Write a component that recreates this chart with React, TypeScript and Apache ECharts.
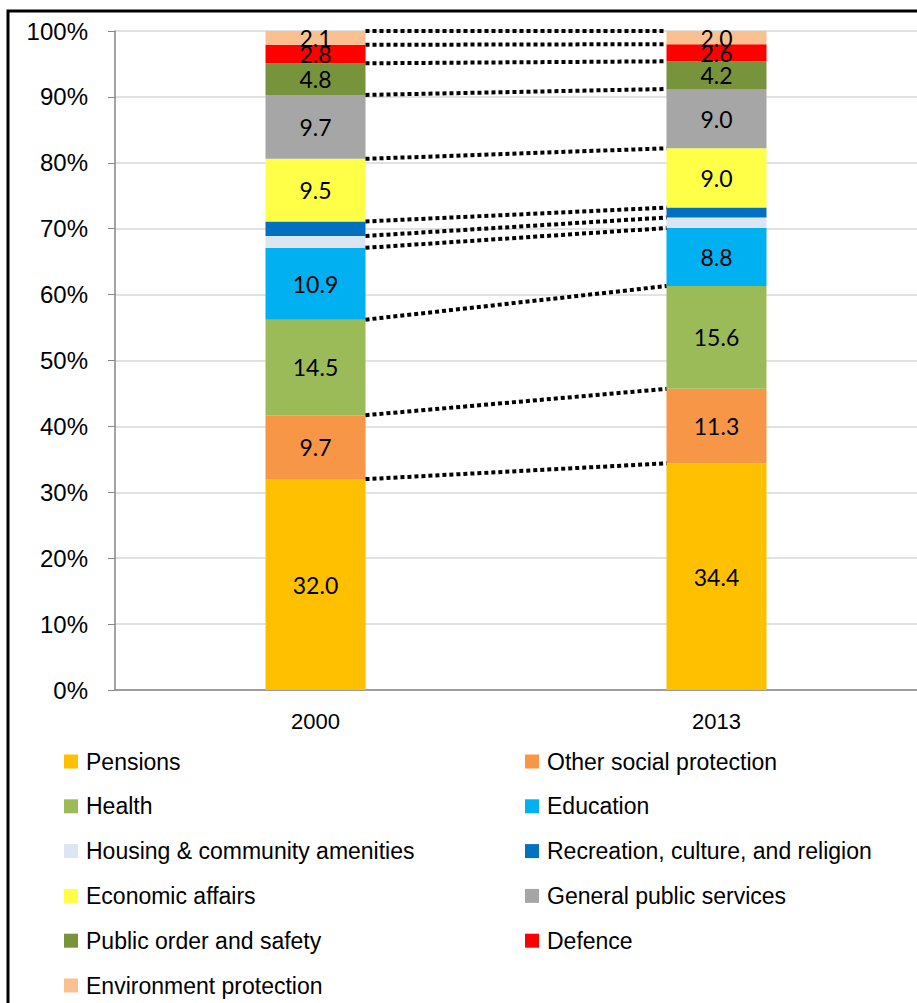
import React, { useEffect, useRef } from "react";
import * as echarts from "echarts";

const years = ["2000", "2013"];
const seriesNames = [
  "Pensions",
  "Other social protection",
  "Health",
  "Education",
  "Housing & community amenities",
  "Recreation, culture, and religion",
  "Economic affairs",
  "General public services",
  "Public order and safety",
  "Defence",
  "Environment protection",
];
const values2000 = [32.0, 9.7, 14.5, 10.9, 1.8, 2.2, 9.5, 9.7, 4.8, 2.8, 2.1];
const values2013 = [34.4, 11.3, 15.6, 8.8, 1.6, 1.5, 9.0, 9.0, 4.2, 2.6, 2.0];
const showLabel = [true, true, true, true, false, false, true, true, true, true, true];
const colors = [
  "#FFC000",
  "#F79646",
  "#9BBB59",
  "#00B0F0",
  "#DCE6F2",
  "#0070C0",
  "#FFFF47",
  "#A6A6A6",
  "#77933C",
  "#FF0000",
  "#FAC090",
];
const yTicks = [0, 10, 20, 30, 40, 50, 60, 70, 80, 90, 100];

const BAR_WIDTH = 100;
const SANS = "'Liberation Sans', Arial, sans-serif";
const LABEL_FONT = "Lato, 'Liberation Sans', sans-serif";

function cumulative(arr: number[]): number[] {
  const out: number[] = [];
  let s = 0;
  for (const v of arr) {
    s += v;
    out.push(Math.round(s * 10) / 10);
  }
  return out;
}

export default function App() {
  const ref = useRef<HTMLDivElement>(null);

  useEffect(() => {
    if (!ref.current) return;
    const chart = echarts.init(ref.current, undefined, { renderer: "svg" });
    const cum0 = cumulative(values2000);
    const cum1 = cumulative(values2013);
    const connectorData = cum0.map((v, i) => [0, v, cum1[i]]);

    const barSeries = seriesNames.map((name, i) => ({
      name,
      type: "bar",
      stack: "total",
      barWidth: BAR_WIDTH,
      itemStyle: { color: colors[i] },
      label: {
        show: showLabel[i],
        position: "inside",
        color: "#000",
        fontSize: 23,
        fontFamily: LABEL_FONT,
        formatter: (p: any) => Number(p.value).toFixed(1),
      },
      data: [values2000[i], values2013[i]],
    }));

    const leftNames = seriesNames.filter((_, i) => i % 2 === 0);
    const rightNames = seriesNames.filter((_, i) => i % 2 === 1);
    const legendCommon = {
      orient: "vertical",
      top: 750,
      height: 280,
      padding: 0,
      itemWidth: 14,
      itemHeight: 14,
      itemGap: 21.8,
      icon: "rect",
      selectedMode: false,
      textStyle: {
        fontSize: 23,
        fontFamily: SANS,
        color: "#000",
        padding: [0, 0, 0, 3],
      },
    };

    chart.setOption({
      animation: false,
      backgroundColor: "#fff",
      graphic: [
        {
          type: "rect",
          shape: { x: 8, y: 11, width: 1000, height: 1100 },
          style: { fill: "none", stroke: "#000", lineWidth: 3 },
          silent: true,
          z: 100,
        },
      ],
      legend: [
        { ...legendCommon, left: 64, data: leftNames },
        { ...legendCommon, left: 525, data: rightNames },
      ],
      grid: { left: 115, right: 0, top: 31, bottom: 313, containLabel: false },
      xAxis: {
        type: "category",
        data: years,
        axisLine: { lineStyle: { color: "#868686", width: 1.5 } },
        axisTick: { show: false },
        axisLabel: { fontSize: 22, fontFamily: SANS, color: "#000", margin: 20 },
      },
      yAxis: {
        type: "value",
        min: 0,
        max: 100,
        interval: 10,
        axisLine: { show: true, lineStyle: { color: "#868686", width: 1.5 } },
        axisTick: { show: true, length: 7, lineStyle: { color: "#868686" } },
        splitLine: { lineStyle: { color: "#d9d9d9", width: 1.5 } },
        axisLabel: {
          fontSize: 24,
          fontFamily: SANS,
          color: "#000",
          margin: 27,
          formatter: (v: number) => (yTicks.includes(v) ? v + "%" : ""),
        },
      },
      series: [
        ...barSeries,
        {
          type: "custom",
          name: "connectors",
          silent: true,
          coordinateSystem: "cartesian2d",
          encode: { x: 0, y: [1, 2] },
          data: connectorData,
          renderItem: (params: any, api: any) => {
            const p0 = api.coord([0, api.value(1)]);
            const p1 = api.coord([1, api.value(2)]);
            const half = BAR_WIDTH / 2;
            return {
              type: "line",
              shape: { x1: p0[0] + half, y1: p0[1], x2: p1[0] - half, y2: p1[1] },
              style: { stroke: "#000", lineWidth: 4, lineDash: [4, 3] },
            };
          },
          z: 5,
        },
      ],
    });
    return () => chart.dispose();
  }, []);

  return (
    <div
      ref={ref}
      style={{ position: "fixed", left: 0, top: 0, width: 917, height: 1003 }}
    />
  );
}
